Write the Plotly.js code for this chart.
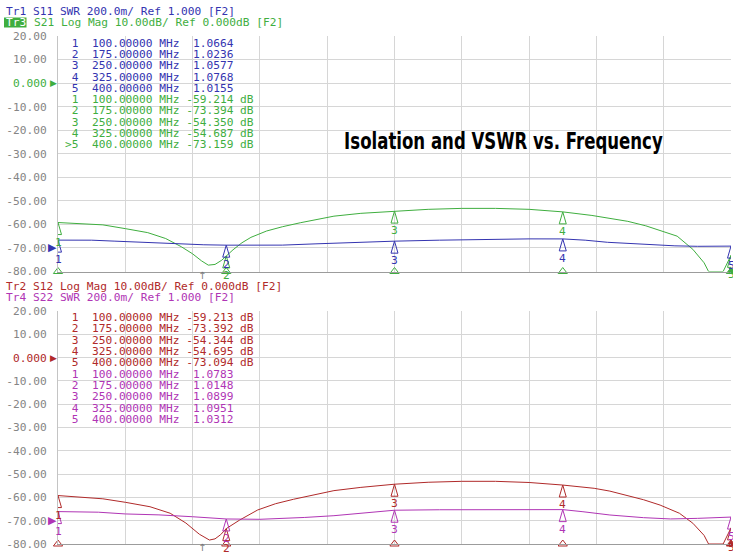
<!DOCTYPE html>
<html><head><meta charset="utf-8">
<script src="https://cdn.plot.ly/plotly-3.0.1.min.js"></script>
<style>html,body{margin:0;padding:0;background:#fff;overflow:hidden}</style>
</head><body><div id="chart" style="width:733px;height:553px"></div>
<script>
// ---------------- DATA ----------------
const freqS21 = [100,110,120,130,140,148,155,160,164,167,170,173,175,178,182,186,193,200,208,215,223,235,243,250,265,280,295,310,325,338,346,354,362,368,376,383,388,390,396.5,400];
const valS21  = [-59.21,-59.6,-60.2,-61.8,-63.5,-66.0,-69.5,-72.5,-75.5,-77.3,-77.0,-75.2,-73.39,-70.8,-67.8,-65.5,-62.8,-61.0,-59.3,-57.9,-56.5,-55.3,-54.8,-54.35,-53.6,-53.2,-53.2,-53.6,-54.69,-56.2,-57.4,-58.7,-60.6,-62.5,-65.0,-70.6,-76.3,-80,-80,-73.16];

const freqS11 = [100,115,125,140,155,165,175,190,200,215,230,250,270,290,310,325,335,345,360,375,385,400];
const valS11  = [1.0664,1.066,1.058,1.045,1.035,1.027,1.0236,1.022,1.024,1.035,1.046,1.0577,1.066,1.073,1.077,1.0768,1.066,1.048,1.030,1.018,1.014,1.0155];

const freqS12 = [100,110,120,130,141,150,157,163,167.5,170,172.5,175,181,189,197,205,214,223,235,243.5,250,265,280,295,310,325,339,346,353.5,361,368.4,377,383,388,390,396.5,400];
const valS12  = [-59.21,-59.8,-60.6,-62.1,-64.0,-66.8,-71.0,-75.8,-78.3,-77.8,-76.0,-73.39,-69.7,-65.4,-62.7,-60.8,-58.8,-57.1,-55.7,-55.0,-54.34,-53.5,-53.1,-53.1,-53.6,-54.70,-56.1,-57.3,-59.0,-61.0,-63.3,-66.8,-71.1,-76.3,-80,-80,-73.09];

const freqS22 = [100,118,130,145,160,175,190,200,210,223,237,250,270,295,325,334,346,361,373,385,400];
const valS22  = [1.0783,1.073,1.058,1.050,1.034,1.0148,1.012,1.018,1.028,1.043,1.065,1.0899,1.094,1.096,1.0951,1.077,1.049,1.026,1.015,1.020,1.0312];

const markerFreqs = [100,175,250,325,400];
const mkS11 = [1.0664,1.0236,1.0577,1.0768,1.0155];
const mkS21 = [-59.214,-73.394,-54.350,-54.687,-73.159];
const mkS12 = [-59.213,-73.392,-54.344,-54.695,-73.094];
const mkS22 = [1.0783,1.0148,1.0899,1.0951,1.0312];

const dbTickVals = [20,10,0,-10,-20,-30,-40,-50,-60,-70,-80];
const dbTickText = ['20.00','10.00','0.000','-10.00','-20.00','-30.00','-40.00','-50.00','-60.00','-70.00','-80.00'];
const freqRange = [100,400];
const dbRange = [-80,20];
const swrRef = 1.0;
const swrRange = [0.8,2.8];
const minArrowFreq = 164.2;

const hdrTop1 = 'Tr1 S11 SWR 200.0m/ Ref 1.000 [F2]';
const hdrTop2a = 'Tr3';
const hdrTop2b = 'S21 Log Mag 10.00dB/ Ref 0.000dB [F2]';
const hdrBot1 = 'Tr2 S12 Log Mag 10.00dB/ Ref 0.000dB [F2]';
const hdrBot2 = 'Tr4 S22 SWR 200.0m/ Ref 1.000 [F2]';
const chartTitle = 'Isolation and VSWR vs. Frequency';

// ---------------- STYLE ----------------
const C_BLUE = '#3434b0', C_GREEN = '#3fae3f', C_RED = '#b02a2a', C_MAG = '#b035b5';
const C_GRID = '#d6d6d6', C_TICK = '#858585';
const MONO = "'DejaVu Sans Mono', monospace";
const FS = 11.2;
const NB = '\u00a0';

// plot area pixels: x 58..731, y 36..544
const L = 58, R = 2, T = 36, B = 9, W = 733, H = 553;
const PW = W - L - R, PH = H - T - B;
const px = X => (X - L) / PW;
const py = Y => (H - B - Y) / PH;

const topDom = [py(271.5), 1];
const botDom = [0, py(311)];

function lineTrace(x, y, xa, ya, color) {
  return {x, y, xaxis: xa, yaxis: ya, type: 'scatter', mode: 'lines', line: {color, width: 1}, hoverinfo: 'skip'};
}
function indicatorTrace(xa, ya, color) {
  return {x: markerFreqs, y: markerFreqs.map(() => dbRange[0]), xaxis: xa, yaxis: ya, type: 'scatter', mode: 'markers', cliponaxis: false,
    marker: {symbol: markerFreqs.map((f, i) => i === markerFreqs.length - 1 ? 'triangle-up' : 'triangle-up-open'), size: 8, color, line: {width: 1, color}}, hoverinfo: 'skip'};
}

const data = [
  lineTrace(freqS21, valS21, 'x', 'y', C_GREEN),
  lineTrace(freqS11, valS11, 'x', 'y2', C_BLUE),
  lineTrace(freqS12, valS12, 'x2', 'y3', C_RED),
  lineTrace(freqS22, valS22, 'x2', 'y4', C_MAG),
  indicatorTrace('x', 'y', C_GREEN),
  indicatorTrace('x2', 'y3', C_RED)
];

// ---------------- SHAPES (marker triangles anchored to data) ----------------
const shapes = [];
function markerShapes(vals, xa, ya, color) {
  markerFreqs.forEach((f, i) => {
    shapes.push({type: 'path', xref: xa, yref: ya, xsizemode: 'pixel', ysizemode: 'pixel', xanchor: f, yanchor: vals[i],
      path: 'M0,0 L-3.5,-12 L3.5,-12 Z', line: {color, width: 1}, fillcolor: 'rgba(0,0,0,0)', layer: 'above'});
  });
}
markerShapes(mkS21, 'x', 'y', C_GREEN);
markerShapes(mkS11, 'x', 'y2', C_BLUE);
markerShapes(mkS12, 'x2', 'y3', C_RED);
markerShapes(mkS22, 'x2', 'y4', C_MAG);
// active trace label box
shapes.push({type: 'rect', xref: 'paper', yref: 'paper', x0: px(4), x1: px(26.5), y0: py(27.5), y1: py(17.5),
  fillcolor: C_GREEN, line: {width: 0}, layer: 'above'});

// ---------------- ANNOTATIONS ----------------
const ann = [];
function txt(X, Y, text, color, extra) {
  ann.push(Object.assign({xref: 'paper', yref: 'paper', x: px(X), y: py(Y), xanchor: 'left', yanchor: 'middle',
    text, showarrow: false, borderpad: 0, font: {family: MONO, size: FS, color}}, extra || {}));
}
txt(5, 11.5, hdrTop1, C_BLUE);
txt(5, 22.5, hdrTop2a, '#ffffff');
txt(33, 22.5, hdrTop2b, C_GREEN);
txt(5, 286, hdrBot1, C_RED);
txt(5, 297, hdrBot2, C_MAG);

const fmtRow = (prefix, i, v, unit) => prefix + (i + 1) + NB + NB + markerFreqs[i].toFixed(5) + NB + 'MHz' + NB + v + unit;
const ROW0_TOP = 43.2, ROW0_BOT = 317.6, ROWH = 11.3, ROWX = 64;
markerFreqs.forEach((f, i) => {
  txt(ROWX, ROW0_TOP + i * ROWH, fmtRow(NB, i, NB + mkS11[i].toFixed(4), ''), C_BLUE);
  txt(ROWX, ROW0_TOP + (i + 5) * ROWH, fmtRow(i === 4 ? '>' : NB, i, mkS21[i].toFixed(3), NB + 'dB'), C_GREEN);
  txt(ROWX, ROW0_BOT + i * ROWH, fmtRow(NB, i, mkS12[i].toFixed(3), NB + 'dB'), C_RED);
  txt(ROWX, ROW0_BOT + (i + 5) * ROWH, fmtRow(NB, i, NB + mkS22[i].toFixed(4), ''), C_MAG);
});

// marker numbers under the triangles
function markerNums(vals, xa, ya, color) {
  markerFreqs.forEach((f, i) => {
    ann.push({xref: xa, yref: ya, x: f, y: vals[i], xanchor: 'center', yanchor: 'top', yshift: -12,
      text: String(i + 1), showarrow: false, borderpad: 0, font: {family: MONO, size: FS, color}});
  });
}
markerNums(mkS21, 'x', 'y', C_GREEN);
markerNums(mkS11, 'x', 'y2', C_BLUE);
markerNums(mkS12, 'x2', 'y3', C_RED);
markerNums(mkS22, 'x2', 'y4', C_MAG);

// reference position indicators
function refInd(xa, ya, yv, color, size) {
  ann.push({xref: xa, yref: ya, x: freqRange[0], y: yv, xanchor: 'right', yanchor: 'middle', text: '\u25B6', showarrow: false,
    borderpad: 0, font: {family: "'DejaVu Sans', sans-serif", size, color}});
}
refInd('x', 'y', 0, C_GREEN, 9);
refInd('x', 'y2', swrRef, C_BLUE, 11);
refInd('x2', 'y3', 0, C_RED, 9);
refInd('x2', 'y4', swrRef, C_MAG, 11);

// min arrows
[['x', 'y'], ['x2', 'y3']].forEach(([xa, ya]) => {
  ann.push({xref: xa, yref: ya, x: minArrowFreq, y: dbRange[0], xanchor: 'center', yanchor: 'top', yshift: 3, text: '\u2191',
    showarrow: false, borderpad: 0, font: {family: "'DejaVu Sans', sans-serif", size: 10, color: '#777777'}});
});

// title
const TITLE_IDX = ann.length;
ann.push({xref: 'paper', yref: 'paper', x: px(503), y: py(141), xanchor: 'center', yanchor: 'middle', showarrow: false,
  text: '<b>' + chartTitle + '</b>',
  font: {family: "'DejaVu Sans', sans-serif", size: 22.5, color: '#000000', weight: 'bold'}});

// ---------------- AXES ----------------
const colored0 = (c) => dbTickText.map(t => t === '0.000' ? '<span style="color:' + c + '">' + t + '</span>' : t);
function xAx(anchor) {
  return {range: freqRange, tick0: freqRange[0], dtick: 30, showgrid: true, gridcolor: C_GRID, gridwidth: 1,
    zeroline: false, showticklabels: false, ticks: '', showline: true, linecolor: '#9c9c9c', linewidth: 1, anchor, fixedrange: true};
}
function yAx(dom, c0, anchor) {
  return {domain: dom, anchor, range: dbRange, tickmode: 'array', tickvals: dbTickVals, ticktext: colored0(c0), showgrid: true, gridcolor: C_GRID,
    zeroline: false, ticks: '', ticklabelstandoff: 8, showline: true, linecolor: '#c4c4c4', linewidth: 1,
    tickfont: {family: MONO, size: FS, color: C_TICK}, fixedrange: true};
}
const layout = {
  width: W, height: H, margin: {l: L, r: R, t: T, b: B, pad: 0},
  paper_bgcolor: '#ffffff', plot_bgcolor: '#ffffff', showlegend: false,
  xaxis: xAx('y'),
  xaxis2: xAx('y3'),
  yaxis: yAx(topDom, C_GREEN, 'x'),
  yaxis2: {overlaying: 'y', anchor: 'x', range: swrRange, visible: false, fixedrange: true},
  yaxis3: yAx(botDom, C_RED, 'x2'),
  yaxis4: {overlaying: 'y3', anchor: 'x2', range: swrRange, visible: false, fixedrange: true},
  shapes, annotations: ann
};

Plotly.newPlot('chart', data, layout, {displayModeBar: false, staticPlot: true}).then(() => {
  // condense the title horizontally (narrow bold display face)
  const t = document.querySelector('.annotation[data-index="' + TITLE_IDX + '"] text.annotation-text');
  if (t) {
    const bb = t.getBBox();
    const target = 319;
    const s = Math.min(1, target / bb.width);
    const cx = bb.x + bb.width / 2;
    const prev = t.getAttribute('transform') || '';
    t.setAttribute('transform', prev + ' translate(' + cx + ',0) scale(' + s + ',1) translate(' + (-cx) + ',0)');
  }
});
</script></body></html>
